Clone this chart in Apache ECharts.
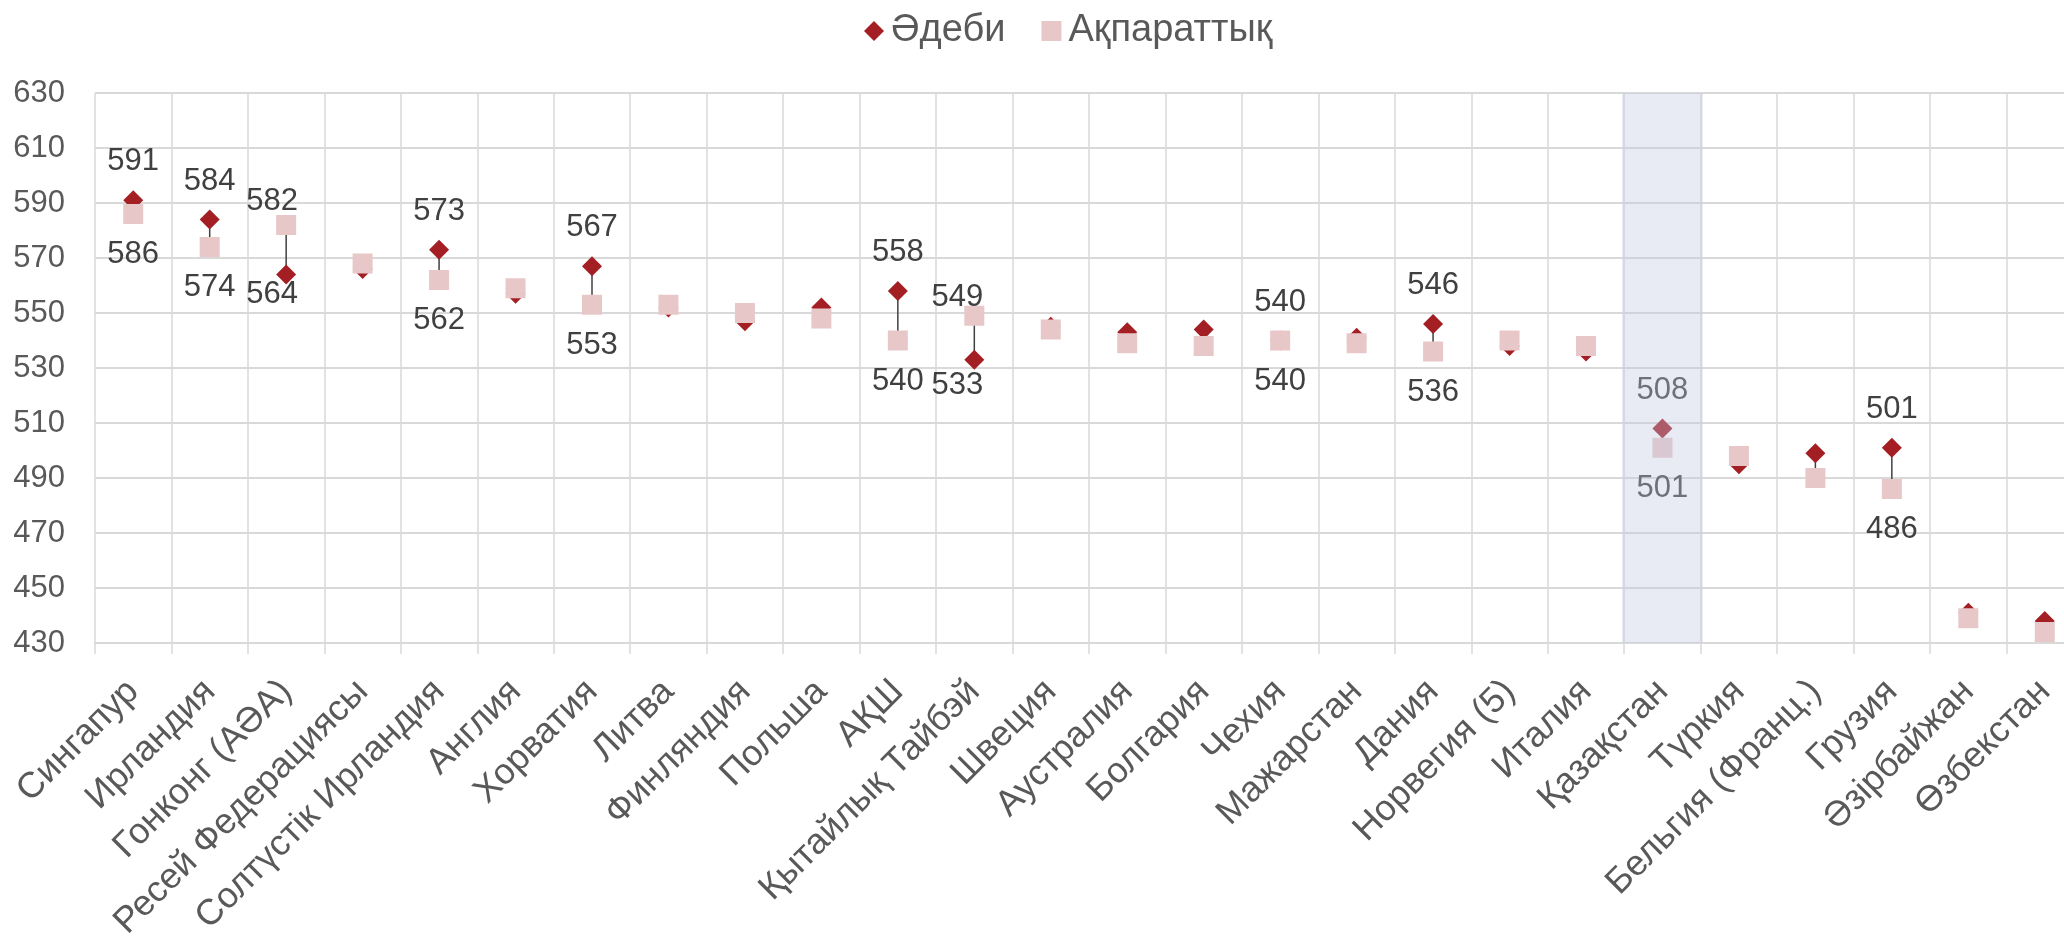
<!DOCTYPE html>
<html>
<head>
<meta charset="utf-8">
<script src="https://cdn.jsdelivr.net/npm/echarts@6/dist/echarts.min.js"></script>
<style>
  html, body { margin: 0; padding: 0; background: #fff; overflow: hidden; }
  /* the original chart runs a little past the right edge of the picture */
  #chart { width: 2084px; height: 939px; }
</style>
</head>
<body>
<div id="chart"></div>
<script>
const categories = [
  'Сингапур', 'Ирландия', 'Гонконг (АӘА)', 'Ресей Федерациясы', 'Солтүстік Ирландия',
  'Англия', 'Хорватия', 'Литва', 'Финляндия', 'Польша', 'АҚШ', 'Қытайлық Тайбэй',
  'Швеция', 'Аустралия', 'Болгария', 'Чехия', 'Мажарстан', 'Дания', 'Норвегия (5)',
  'Италия', 'Қазақстан', 'Түркия', 'Бельгия (Франц.)', 'Грузия', 'Әзірбайжан', 'Өзбекстан'
]
const literary = [591, 584, 564, 566, 573, 557, 567, 552, 547, 552, 558, 533, 545, 543, 544, 540, 541, 546, 538, 536, 508, 495, 499, 501, 441, 438]
const informational = [586, 574, 582, 568, 562, 559, 553, 553, 550, 548, 540, 549, 544, 539, 538, 540, 539, 536, 540, 538, 501, 498, 490, 486, 439, 434]
// categories whose values are labelled in the original
const labelled = ['Сингапур', 'Ирландия', 'Гонконг (АӘА)', 'Солтүстік Ирландия', 'Хорватия', 'АҚШ',
  'Қытайлық Тайбэй', 'Чехия', 'Дания', 'Қазақстан', 'Грузия']
const highlighted = 'Қазақстан'
const yTicks = { min: 430, max: 630, step: 20 }

const FONT = "'Liberation Sans', Arial, sans-serif"
const RED = '#a31f24'
const PINK = '#e8c7c9'
const GRID = '#d9d9d9'

// hand-moved labels in the original
const nudge = {
  'Гонконг (АӘА)': { dx: -14, above: -2, below: -6 },
  'Қытайлық Тайбэй': { dx: -17, above: -7, below: 0 },
}

function labelFor(name, isTop) {
  if (!labelled.includes(name)) return { show: false }
  const n = nudge[name]
  return {
    show: true,
    position: isTop ? 'top' : 'bottom',
    distance: n ? (isTop ? n.above : n.below) : (isTop ? 13 : 15),
    offset: n ? [n.dx, 0] : [0, 0],
    color: '#404040',
    fontFamily: FONT,
    fontSize: 31,
  }
}

const litData = literary.map((v, i) => ({
  value: v,
  label: labelFor(categories[i], v >= informational[i]),
}))
const infData = informational.map((v, i) => ({
  value: v,
  label: labelFor(categories[i], v > literary[i]),
}))

const chart = echarts.init(document.getElementById('chart'), null, { renderer: 'canvas' })

chart.setOption({
  animation: false,
  backgroundColor: '#fff',
  legend: {
    data: [
      { name: 'Әдеби', icon: 'diamond' },
      { name: 'Ақпараттық', icon: 'rect' },
    ],
    left: 859,
    top: 7,
    itemWidth: 20,
    itemHeight: 20,
    itemGap: 36,
    textStyle: { color: '#595959', fontFamily: FONT, fontSize: 38, padding: [0, 0, 0, 2] },
  },
  grid: { left: 95, top: 93, width: 1988, height: 550, outerBoundsMode: 'none', containLabel: false },
  xAxis: {
    type: 'category',
    data: categories,
    boundaryGap: true,
    axisLine: { lineStyle: { color: GRID, width: 2 } },
    axisTick: { show: true, length: 11, lineStyle: { color: GRID, width: 1.5 } },
    splitLine: { show: true, lineStyle: { color: GRID, width: 1.5 } },
    axisLabel: {
      interval: 0,
      rotate: 45,
      margin: 43,
      color: '#595959',
      fontFamily: FONT,
      fontSize: 36,
    },
  },
  yAxis: {
    type: 'value',
    min: yTicks.min,
    max: yTicks.max,
    interval: yTicks.step,
    axisLine: { show: false },
    axisTick: { show: false },
    splitLine: { lineStyle: { color: GRID, width: 2 } },
    axisLabel: { margin: 30, color: '#595959', fontFamily: FONT, fontSize: 31 },
  },
  series: [
    {
      // high-low lines
      type: 'custom',
      silent: true,
      z: 1,
      data: categories.map((c, i) => [i, literary[i], informational[i]]),
      encode: { x: 0, y: [1, 2] },
      renderItem(params, api) {
        const a = api.coord([api.value(0), api.value(1)])
        const b = api.coord([api.value(0), api.value(2)])
        return {
          type: 'line',
          shape: { x1: a[0], y1: a[1], x2: b[0], y2: b[1] },
          style: { stroke: '#404040', lineWidth: 1.5 },
        }
      },
    },
    {
      name: 'Әдеби',
      type: 'scatter',
      symbol: 'diamond',
      symbolSize: [20, 20],
      itemStyle: { color: RED, opacity: 1 },
      z: 2,
      data: litData,
    },
    {
      name: 'Ақпараттық',
      type: 'scatter',
      symbol: 'rect',
      symbolSize: [20, 20],
      itemStyle: { color: PINK, opacity: 1 },
      z: 3,
      data: infData,
    },
    {
      // highlight band
      type: 'bar',
      silent: true,
      z: 5,
      barWidth: 81,
      itemStyle: { color: 'rgba(192,199,225,0.36)' },
      data: categories.map(c => (c === highlighted ? yTicks.max : '-')),
    },
  ],
})
</script>
</body>
</html>
